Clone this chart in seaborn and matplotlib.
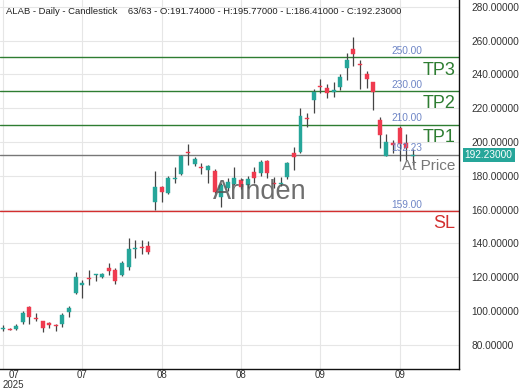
import matplotlib
matplotlib.use("Agg")
from matplotlib import pyplot as plt
import seaborn as sns
import pandas as pd

# OHLC per daily candle
opens = [89.5, 89.5, 89.2, 93.5, 102.2, 95.6, 94.0, 93.0, 91.9, 92.0,
         99.6, 110.5, 115.4, 119.2, 121.0, 120.3, 125.3, 124.3, 121.3, 126.0,
         136.8, 137.5, 138.5, 164.7, 173.2, 169.7, 178.3, 180.9, 194.2, 187.0,
         185.2, 183.4, 183.0, 167.6, 172.6, 175.0, 177.5, 174.6, 182.4, 181.5,
         188.8, 175.5, 175.0, 179.5, 193.7, 194.3, 214.3, 224.9, 233.1, 231.8,
         229.8, 232.4, 243.6, 254.9, 246.3, 240.2, 235.7, 213.0, 191.7, 199.6,
         208.0, 199.6, 191.74]
highs = [91.5, 89.8, 92.0, 100.0, 103.0, 99.0, 94.3, 93.3, 92.0, 99.0,
         103.0, 123.3, 118.3, 124.0, 122.0, 122.5, 128.6, 125.3, 129.5, 143.0,
         142.0, 142.0, 141.4, 183.0, 174.0, 180.0, 185.0, 192.5, 198.8, 191.0,
         187.4, 186.5, 184.0, 175.6, 178.5, 185.4, 178.5, 180.0, 185.0, 189.5,
         189.3, 179.5, 179.5, 188.0, 196.9, 220.0, 217.3, 231.2, 237.1, 234.3,
         235.7, 240.0, 252.5, 262.0, 248.5, 242.2, 235.7, 215.0, 204.7, 201.0,
         209.5, 205.0, 195.77]
lows = [88.0, 88.8, 88.5, 92.0, 92.0, 94.0, 87.8, 90.0, 88.0, 90.5,
        96.7, 110.3, 107.5, 115.4, 118.0, 119.5, 121.3, 116.0, 120.5, 124.0,
        131.5, 133.5, 133.7, 159.8, 164.7, 169.0, 175.6, 180.5, 186.4, 186.0,
        181.0, 176.0, 170.0, 161.5, 171.0, 174.5, 172.0, 173.0, 176.0, 180.0,
        178.5, 172.6, 174.0, 178.0, 183.4, 193.5, 209.0, 217.0, 228.8, 225.8,
        226.4, 231.0, 236.7, 245.0, 231.2, 231.8, 218.9, 196.3, 191.7, 193.3,
        189.0, 189.3, 186.41]
closes = [90.0, 89.0, 91.0, 99.0, 96.6, 95.1, 89.8, 91.7, 91.3, 97.6,
          101.6, 120.3, 116.4, 118.8, 121.5, 121.7, 123.8, 118.0, 128.2, 136.5,
          137.2, 137.0, 135.0, 173.6, 170.4, 178.9, 178.6, 191.7, 193.2, 189.8,
          184.8, 185.8, 170.6, 174.6, 176.5, 178.5, 173.6, 178.0, 178.5, 188.3,
          181.5, 175.1, 176.0, 187.4, 191.3, 215.4, 213.8, 229.8, 232.4, 229.2,
          230.8, 238.3, 248.5, 252.1, 245.8, 237.1, 229.8, 204.0, 200.2, 198.2,
          198.8, 196.3, 192.23]

tick_idx = [0, 12, 24, 36, 48, 60]
tick_labels = ["07\n2025", "07", "08", "08", "09", "09"]

levels = [250.0, 230.0, 210.0, 192.23, 159.0]
level_names = ["TP3", "TP2", "TP1", "At Price", "SL"]
level_colors = ["#2e7d32", "#2e7d32", "#2e7d32", "#777777", "#d32f2f"]

title = ("ALAB - Daily - Candlestick    63/63 - O:191.74000 - H:195.77000 "
         "- L:186.41000 - C:192.23000")
last_price = 192.23

df = pd.DataFrame({"open": opens, "high": highs, "low": lows, "close": closes})
df["idx"] = range(len(df))
df["up"] = df["close"] >= df["open"]

sns.set_theme(style="whitegrid")
plt.rcParams["font.family"] = ["Liberation Sans", "DejaVu Sans"]

green = "#26a69a"
red = "#ef3b4f"

fig = plt.figure(figsize=(5.2, 3.9), dpi=100)
ax = fig.add_axes([0.0, 0.054, 0.883, 0.946])
ax.set_facecolor("white")

# wicks
ax.vlines(df["idx"], df["low"], df["high"], color="#444444", linewidth=0.9, zorder=2)
# bodies
body_lo = df[["open", "close"]].min(axis=1)
body_h = (df["close"] - df["open"]).abs().clip(lower=0.6)
colors = [green if u else red for u in df["up"]]
ax.bar(df["idx"], body_h, bottom=body_lo, width=0.6, color=colors,
       edgecolor=colors, linewidth=0.3, zorder=3)

# level lines with labels
for lv, name, col in zip(levels, level_names, level_colors):
    ax.axhline(lv, color=col, linewidth=1.0, zorder=1.5)
    ax.text(61.1, lv + 1.0, f"{lv:.2f}", color="#6f86c6", fontsize=7.3,
            ha="center", va="bottom", zorder=4)
    fs = 13 if name != "At Price" else 11
    ax.text(68.4, lv - 2.5, name, color=col, fontsize=fs, ha="right",
            va="top", zorder=4)

ax.text(38.9, 170.5, "Arinden", fontsize=19.5, color="#555555", alpha=0.85,
        ha="center", va="center", zorder=5)

ax.yaxis.tick_right()
ax.set_yticks(range(60, 281, 20))
ax.set_yticklabels([f"{v:.5f}" for v in range(60, 281, 20)])
ax.tick_params(axis="y", labelsize=7.3, pad=9, length=0, colors="#333333")
ax.set_xticks(tick_idx)
ax.set_xticklabels(tick_labels, linespacing=0.95)
ax.tick_params(axis="x", labelsize=7, pad=1, length=0, colors="#333333")
first = ax.get_xticklabels()[0]
first.set_horizontalalignment("left")
first.set_multialignment("center")

ax.set_xlim(-0.45, 69)
ax.set_ylim(65.7, 284)

ax.grid(True, color="#e6e6e6", linewidth=0.8)
for side in ["left", "top"]:
    ax.spines[side].set_visible(False)
for side in ["right", "bottom"]:
    ax.spines[side].set_visible(True)
    ax.spines[side].set_color("#111111")
    ax.spines[side].set_linewidth(1.0)

ax.text(0.5, 277, title, fontsize=6.8, color="#222222", ha="left", va="center")

# current price tag on the axis
ax.text(1.012, last_price, f"{last_price:.5f}", transform=ax.get_yaxis_transform(),
        fontsize=7.3, color="white", ha="left", va="center",
        bbox=dict(boxstyle="square,pad=0.2", facecolor=green, edgecolor="none"))

fig.savefig("out.png", dpi=100, facecolor="white")
